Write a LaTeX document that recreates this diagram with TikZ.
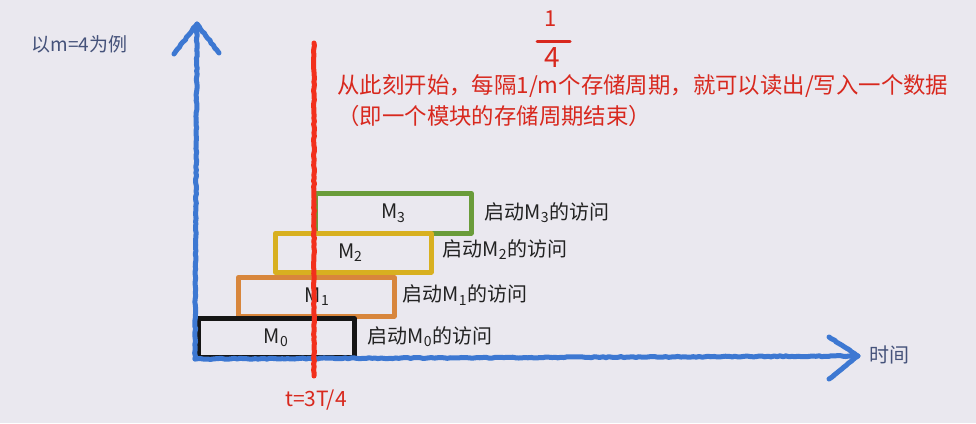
\documentclass[tikz,border=0pt]{standalone}
\usepackage{fontspec}
\setmainfont{Noto Sans CJK SC}
\usetikzlibrary{decorations.pathmorphing}
\definecolor{bg}{HTML}{EAE8EF}
\definecolor{axisblue}{HTML}{3D78D2}
\definecolor{redline}{HTML}{F2301C}
\definecolor{redtext}{HTML}{D8281E}
\definecolor{labelblue}{HTML}{45527A}
\definecolor{mgreen}{HTML}{6A9C3A}
\definecolor{myellow}{HTML}{D8B020}
\definecolor{morange}{HTML}{D8863C}
\definecolor{mblack}{HTML}{151515}
\definecolor{txt}{HTML}{222222}
\tikzset{
  crayon/.style={line width=5pt, line cap=round, line join=round,
    decorate, decoration={random steps, segment length=3pt, amplitude=0.5pt}},
  membox/.style={draw=#1, line width=4.5pt, line join=round, inner sep=0pt, anchor=north west},
  boxlabel/.style={font=\fontsize{20}{21}\selectfont, text=txt},
  sidelabel/.style={font=\fontsize{20}{21}\selectfont, text=txt, anchor=west},
  redlabel/.style={font=\fontsize{22.4}{26}\selectfont, text=redtext, anchor=west},
  axisline/.style={crayon, draw=axisblue},
}
\begin{document}
\begin{tikzpicture}[x=1pt,y=-1pt]
\fill[bg] (0,0) rectangle (976,423);
\useasboundingbox (0,0) rectangle (976,423);

% axes coordinates
\coordinate (O) at (195,359);
\coordinate (ytop) at (197,24);
\coordinate (xend) at (858,356);
\coordinate (yl) at (174,54);
\coordinate (yr) at (219,53);
\coordinate (xu) at (829,337);
\coordinate (xd) at (829,379);

% memory boxes
\node[membox=mgreen, minimum width=156pt, minimum height=40pt] (b3) at (313,191) {};
\node[membox=myellow, minimum width=156pt, minimum height=39pt] (b2) at (273,231) {};
\node[membox=morange, minimum width=156pt, minimum height=39pt] (b1) at (236,275) {};
\node[membox=mblack, minimum width=156pt, minimum height=39pt] (b0) at (196,316) {};

\node[boxlabel] (m3) at (b3.center) {M\textsubscript{3}};
\node[boxlabel] (m2) at ([xshift=-3pt]b2.center) {M\textsubscript{2}};
\node[boxlabel] (m1) at ([xshift=1pt]b1.center) {M\textsubscript{1}};
\node[boxlabel] (m0) at ([xshift=0pt]b0.center) {M\textsubscript{0}};

\node[sidelabel] (s3) at (481,213) {启动M\textsubscript{3}的访问};
\node[sidelabel] (s2) at (439,250) {启动M\textsubscript{2}的访问};
\node[sidelabel] (s1) at (399,295) {启动M\textsubscript{1}的访问};
\node[sidelabel] (s0) at (364,337) {启动M\textsubscript{0}的访问};

% axes
\draw[axisline] (O) -- (ytop);
\draw[axisline] (yl) -- (ytop) -- (yr);
\draw[axisline] (O) -- (xend);
\draw[axisline] (xu) -- (xend) -- (xd);

\node[font=\fontsize{19}{20}\selectfont, text=labelblue, anchor=west] (ex) at (28,44) {以m=4为例};
\node[font=\fontsize{20}{21}\selectfont, text=labelblue, anchor=west] (time) at (866,355) {时间};

% red time line
\coordinate (rtop) at (314,43);
\coordinate (rbot) at (314,376);
\draw[crayon, draw=redline, line width=5pt] (rtop) -- (rbot);
\node[font=\fontsize{21}{22}\selectfont, text=redtext] (t) at (316,400) {t=3T/4};

% handwritten fraction
\node[font=\fontsize{22}{24}\selectfont, text=redtext] (one) at (551,19) {1};
\node[font=\fontsize{28}{30}\selectfont, text=redtext] (four) at (552,58) {4};
\coordinate (fl) at (537,41);
\coordinate (fr) at (570,41);
\draw[redtext, line width=3pt, line cap=round] (fl) -- (fr);

% red explanation
\node[redlabel] (l1) at (334,86) {从此刻开始，每隔1/m个存储周期，就可以读出/写入一个数据};
\node[redlabel] (l2) at (334,116) {（即一个模块的存储周期结束）};
\end{tikzpicture}
\end{document}
